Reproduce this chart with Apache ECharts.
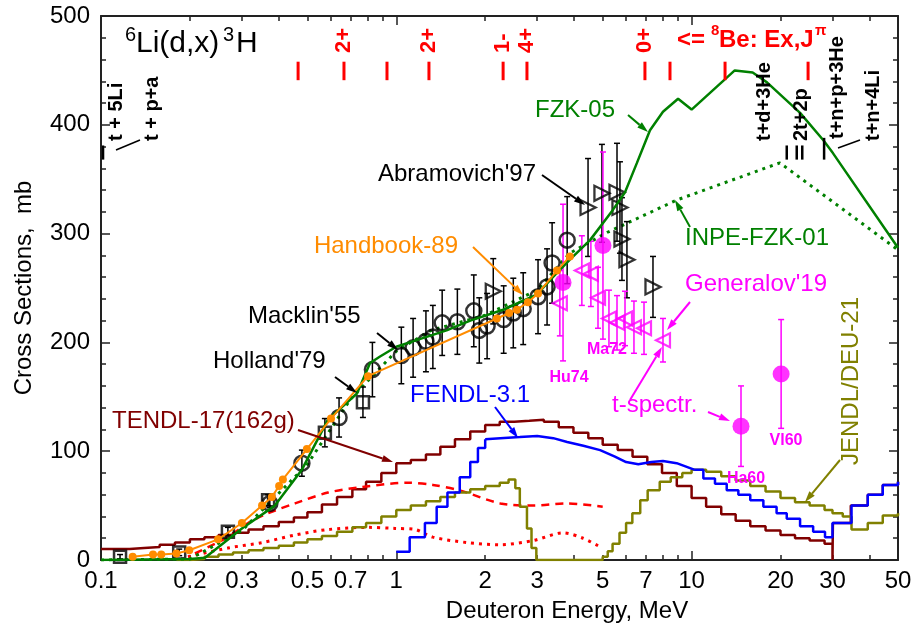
<!DOCTYPE html>
<html>
<head>
<meta charset="utf-8">
<script src="https://cdn.jsdelivr.net/npm/echarts@6/dist/echarts.min.js"></script>
<style>
  html, body { margin: 0; padding: 0; background: #fff; }
  #chart { width: 914px; height: 630px; }
</style>
</head>
<body>
<div id="chart"></div>
<script>
// 6Li(d,x)3H  -  energies in MeV, cross sections in mb

// axis ticks
var tickLabels = [0.1, 0.2, 0.3, 0.5, 0.7, 1, 2, 3, 5, 7, 10, 20, 30, 50];
var minorTicks = [0.2, 0.3, 0.4, 0.5, 0.6, 0.7, 0.8, 0.9, 2, 3, 4, 5, 6, 7, 8, 9, 20, 30, 40];
var majorTicks = [1, 10];

// evaluations
var fzkE  = [0.1, 0.2, 0.225, 0.3, 0.388, 0.479, 0.587, 0.736, 0.815, 0.881, 1.0, 1.2, 1.48, 1.78, 2.3, 2.99, 3.39, 3.87, 4.53, 5.42, 5.95, 6.53, 7.23, 8.0, 9.0, 10.0, 14.0, 16.1, 18.0, 23.3, 27.9, 30.1, 50];
var fzkXS = [0, 1, 2, 29, 50, 83, 129, 153, 181, 187, 196, 203, 211, 220, 230, 244, 260, 276, 294, 322, 338, 365, 395, 412, 424, 414, 450, 448, 439, 411, 386, 374, 287];

var inpeE  = [0.1, 0.2, 0.3, 0.5, 0.7, 1.0, 1.31, 2.0, 3.0, 3.87, 5.17, 8.93, 19.9, 50];
var inpeXS = [0, 1, 27, 88, 148, 192, 211, 225, 248, 282, 301, 331, 365, 285];

var hbE  = [0.128, 0.150, 0.160, 0.180, 0.199, 0.249, 0.300, 0.351, 0.379, 0.401, 0.413, 0.498, 0.601, 0.802, 2.19, 2.41, 2.56, 2.79, 3.02, 3.50, 3.87];
var hbXS = [3, 5, 5, 6, 9, 19, 34, 50, 58, 68, 74, 102, 130, 169, 222, 227, 230, 237, 245, 266, 279];

var tendlE  = [0.1, 0.112, 0.125, 0.14, 0.158, 0.178, 0.2, 0.224, 0.25, 0.28, 0.316, 0.355, 0.4, 0.45, 0.5, 0.56, 0.63, 0.71, 0.79, 0.89, 1.0, 1.12, 1.26, 1.41, 1.58, 1.78, 2.0, 2.24, 2.51, 2.82, 3.16, 3.55, 3.98, 4.47, 5.0, 5.62, 6.31, 7.08, 7.94, 8.91, 10.0, 11.2, 12.6, 14.1, 15.8, 17.8, 20.0, 22.4, 25.1, 28.2, 30.0, 30.1, 34.6, 39.5, 44.4, 50];
var tendlXS = [10, 10, 11, 12, 14, 16, 19, 21, 23, 25, 28, 31, 35, 39, 44, 51, 58, 65, 72, 80, 89, 92, 97, 104, 111, 118, 124, 127, 128, 129, 127, 122, 117, 112, 106, 101, 95, 88, 80, 68, 57, 49, 42, 36, 31, 27, 23, 20, 18, 15, 0, 34, 50, 60, 69, 72];

var tendlDashE  = [0.208, 0.269, 0.315, 0.368, 0.454, 0.587, 0.765, 1.09, 1.33, 1.64, 2.25, 2.92, 3.79, 5.0];
var tendlDashXS = [6, 21, 34, 43, 52, 62, 67, 71, 69, 64, 52, 50, 52, 49];

var tendlDotE  = [0.197, 0.269, 0.351, 0.454, 0.587, 0.80, 0.99, 1.16, 1.33, 1.74, 2.25, 2.92, 3.67, 4.29, 4.9];
var tendlDotXS = [3, 11, 16, 23, 28, 30, 29, 28, 21, 16, 14, 18, 25, 20, 12];

var fendlE1  = [1.0, 1.11, 1.25, 1.37, 1.49, 1.64, 1.78, 1.89, 2.0];
var fendlXS1 = [7.6, 21, 34, 49, 62, 76, 90, 103, 111];
var fendlE2  = [2.0, 2.25, 2.62, 3.0, 3.4, 3.79, 4.3, 4.9, 5.5, 6.0, 6.6, 7.3, 8.0, 8.9, 10.2];
var fendlXS2 = [111, 112, 113, 114, 112, 108.5, 105, 101, 95, 90, 88, 90, 91, 89, 83];
var fendlE3  = [10.2, 10.96, 12.0, 13.15, 14.4, 15.8, 17.5, 19.4, 21.0, 23.3, 25.8, 28.3, 30.0, 34.8, 39.5, 44.4, 50];
var fendlXS3 = [83, 75, 70, 64, 60, 55, 49, 43, 38, 31, 26, 21, 34, 50, 60, 69, 72];

var jendlE  = [0.18, 0.2, 0.224, 0.25, 0.28, 0.316, 0.355, 0.4, 0.45, 0.5, 0.56, 0.63, 0.71, 0.79, 0.89, 1.0, 1.12, 1.26, 1.41, 1.58, 1.78, 2.0, 2.24, 2.4, 2.53, 2.62, 2.77, 2.87, 2.98, 5.0, 5.2, 5.4, 5.7, 6.0, 6.3, 6.7, 7.1, 7.8, 8.5, 9.3, 10.0, 11.2, 12.6, 14.1, 15.8, 17.8, 20.0, 22.4, 25.1, 28.2, 30.0, 32.5, 34.8, 39.5, 44.4, 50];
var jendlXS = [0, 1, 3, 5, 7, 9, 11, 13, 16, 19, 22, 26, 30, 34, 40, 46, 50, 54, 58, 62, 65, 68, 71, 74, 66, 49, 29, 11, 0, 3, 8, 15, 25, 34, 43, 55, 64, 72, 76, 80, 83, 81, 77, 73, 68, 63, 57, 53, 50, 46, 43, 40, 28, 34, 41, 43];

// measurements
var macE   = [0.373, 0.479, 0.640, 0.83, 1.04, 1.14, 1.26, 1.33, 1.43, 1.61, 1.83, 1.91, 2.03, 2.31, 2.49, 2.69, 3.02, 3.24, 3.37, 3.79];
var macXS  = [52, 89, 131, 175, 188, 195, 201, 205, 218, 219, 229, 211, 215, 221, 227, 231, 242, 251, 273, 294];
var macErr = [4, 12, 18, 25, 26, 27, 28, 29, 30, 30, 33, 30, 30, 31, 32, 33, 34, 35, 37, 40];

var holE   = [0.116, 0.184, 0.269, 0.368, 0.573, 0.771];
var holXS  = [3, 7, 26, 55, 117, 145];
var holErr = [2, 3, 4, 5, 13, 14];

var abrE   = [2.13, 4.46, 4.97, 5.59, 5.72, 5.81, 6.04, 7.40];
var abrXS  = [247, 324, 337, 338, 324, 295, 276, 251];
var abrErr = [30, 45, 45, 45, 42, 38, 35, 28];

var genE   = [3.58, 4.25, 4.56, 4.82, 5.25, 5.59, 5.95, 6.38, 6.90, 8.0];
var genXS  = [236, 266, 263, 241, 222, 218, 222, 214, 213, 202];
var genErr = [30, 32, 30, 28, 26, 25, 25, 24, 24, 20];

var tspE   = [3.67, 5.01, 14.7, 20.1];
var tspXS  = [255, 289, 123, 171];
var tspErr = [72, 86, 37, 50];

// 8Be levels and reaction thresholds
var levelE = [0.465, 0.665, 0.93, 1.29, 2.30, 2.77, 6.95, 8.45, 12.98, 24.8];
var levelTagE = [0.665, 1.29, 2.30, 2.77, 6.95];
var levelTags = ['2+', '2+', '1-', '4+', '0+'];
var thrE  = [0.1016, 21.0, 22.7, 23.7, 28.1];
var thrHi = [381, 381, 381, 381, 388];

var FONT = '"Liberation Sans", Arial, sans-serif';
var L10 = function (v) { return Math.log(v) / Math.LN10; };

function pairs(xs, ys) { return xs.map(function (x, i) { return [x, ys[i]]; }); }
function triples(xs, ys, es) { return xs.map(function (x, i) { return [x, ys[i], es[i]]; }); }

var myChart = echarts.init(document.getElementById('chart'));

// 误差棒
function errBars(color) {
    return function (params, api) {
        var x = api.value(0), y = api.value(1), e = api.value(2);
        var p1 = api.coord([x, y + e]), p2 = api.coord([x, y - e]);
        var st = { stroke: color, lineWidth: 1.5 };
        return {
            type: 'group',
            children: [
                { type: 'line', shape: { x1: p1[0], y1: p1[1], x2: p2[0], y2: p2[1] }, style: st },
                { type: 'line', shape: { x1: p1[0] - 3, y1: p1[1], x2: p1[0] + 3, y2: p1[1] }, style: st },
                { type: 'line', shape: { x1: p2[0] - 3, y1: p2[1], x2: p2[0] + 3, y2: p2[1] }, style: st }
            ]
        };
    };
}

function vMarks(color, width) {
    return function (params, api) {
        var p1 = api.coord([api.value(0), api.value(1)]), p2 = api.coord([api.value(0), api.value(2)]);
        return { type: 'line', shape: { x1: p1[0], y1: p1[1], x2: p2[0], y2: p2[1] }, style: { stroke: color, lineWidth: width } };
    };
}

function arrow(x1, y1, x2, y2, color) {
    var a = Math.atan2(y2 - y1, x2 - x1), L = 11, W = 3.5;
    var bx = x2 - L * Math.cos(a), by = y2 - L * Math.sin(a);
    return [
        { type: 'line', z: 20, shape: { x1: x1, y1: y1, x2: bx, y2: by }, style: { stroke: color, lineWidth: 2 } },
        { type: 'polygon', z: 20, shape: { points: [[x2, y2], [bx + W * Math.sin(a), by - W * Math.cos(a)], [bx - W * Math.sin(a), by + W * Math.cos(a)]] }, style: { fill: color } }
    ];
}

function label(text, x, y, color, size, opts) {
    opts = opts || {};
    return {
        type: 'text', z: 20, x: x, y: y, rotation: opts.rot || 0,
        style: {
            text: text, fill: color, align: opts.align || 'left', verticalAlign: 'middle',
            font: (opts.bold ? 'bold ' : '') + size + 'px ' + FONT
        }
    };
}

function lineSeries(xs, ys, color, width, extra) {
    var s = {
        type: 'line', data: pairs(xs, ys), showSymbol: false, symbol: 'none',
        lineStyle: { color: color, width: width }, z: 3, silent: true
    };
    for (var k in extra) s[k] = extra[k];
    return s;
}

function scatter(xs, ys, sym, rot, size, color, filled, bw) {
    return {
        type: 'scatter', data: pairs(xs, ys), symbol: sym, symbolRotate: rot, symbolSize: size, z: 5,
        itemStyle: filled ? { color: color } : { color: 'rgba(0,0,0,0)', borderColor: color, borderWidth: bw || 2 }
    };
}

function errSeries(xs, ys, es, color) {
    return { type: 'custom', renderItem: errBars(color), data: triples(xs, ys, es), encode: { x: 0, y: 1 }, z: 4 };
}

var tickLine = { color: '#222', width: 1.5 };
var frame = { show: true, onZero: false, lineStyle: { color: '#222', width: 2 } };
function tickAxis(pos, vals, len, withLabels) {
    return {
        type: 'value', min: -1, max: L10(50), position: pos,
        axisLine: { show: false, onZero: false },
        axisTick: { show: true, inside: true, length: len, lineStyle: tickLine, customValues: vals.map(L10) },
        axisLabel: withLabels ? {
            show: true, customValues: tickLabels.map(L10), margin: 9, color: '#000', fontSize: 24, fontFamily: FONT,
            formatter: function (v) { return String(+Math.pow(10, v).toPrecision(2)); }
        } : { show: false },
        splitLine: { show: false }
    };
}
function yAx(pos, withLabels) {
    return {
        type: 'value', min: 0, max: 500, interval: 100, position: pos,
        axisLine: frame,
        axisTick: { show: true, inside: true, length: 9, lineStyle: tickLine },
        minorTick: { show: true, splitNumber: 5, length: 5, lineStyle: tickLine },
        axisLabel: withLabels ? { show: true, margin: 11, color: '#000', fontSize: 24, fontFamily: FONT } : { show: false },
        splitLine: { show: false }
    };
}

var option = {
    animation: false,
    textStyle: { fontFamily: FONT },
    grid: { left: 101, right: 16, top: 16, bottom: 70, containLabel: false, outerBoundsMode: 'none' },
    xAxis: [
        {
            type: 'log', logBase: 10, min: 0.1, max: 50, position: 'bottom',
            axisLine: frame, axisTick: { show: false }, axisLabel: { show: false },
            splitLine: { show: false }, minorTick: { show: false }, minorSplitLine: { show: false }
        },
        tickAxis('bottom', minorTicks, 5, true),
        tickAxis('bottom', majorTicks, 9, false),
        tickAxis('top', minorTicks, 5, false),
        (function () { var a = tickAxis('top', majorTicks, 9, false); a.axisLine = frame; return a; })()
    ],
    yAxis: [yAx('left', true), yAx('right', false)],
    series: [
        lineSeries(tendlE, tendlXS, '#800000', 2.5, { step: 'end' }),
        lineSeries(tendlDashE, tendlDashXS, '#ff0000', 2.5, { smooth: 0.3, lineStyle: { color: '#ff0000', width: 2.5, type: [8, 6] } }),
        lineSeries(tendlDotE, tendlDotXS, '#ff0000', 2.5, { smooth: 0.3, lineStyle: { color: '#ff0000', width: 3, type: [3, 5] } }),
        lineSeries(jendlE, jendlXS, '#808000', 2.5, { step: 'end' }),
        lineSeries(fendlE1, fendlXS1, '#0000ff', 2.5, { step: 'end' }),
        lineSeries(fendlE2, fendlXS2, '#0000ff', 2.5, {}),
        lineSeries(fendlE3, fendlXS3, '#0000ff', 2.5, { step: 'end' }),
        lineSeries(inpeE, inpeXS, '#008000', 2.5, { lineStyle: { color: '#008000', width: 3, type: [3, 5] } }),
        errSeries(macE, macXS, macErr, '#000'),
        errSeries(holE, holXS, holErr, '#000'),
        errSeries(abrE, abrXS, abrErr, '#000'),
        errSeries(genE, genXS, genErr, '#ff00ff'),
        errSeries(tspE, tspXS, tspErr, '#ff00ff'),
        scatter(macE, macXS, 'circle', 0, 15, '#000', false, 2.5),
        scatter(holE, holXS, 'rect', 0, 12, '#000', false, 2.5),
        scatter(abrE, abrXS, 'triangle', -90, 15, '#000', false, 2.3),
        scatter(genE, genXS, 'triangle', 90, 14, '#ff00ff', false, 2.2),
        scatter(tspE, tspXS, 'circle', 0, 17, '#ff00ff', true),
        lineSeries(fzkE, fzkXS, '#008000', 2.5, { z: 6 }),
        lineSeries(hbE, hbXS, '#ff8c00', 2, { z: 6, showSymbol: true, symbol: 'circle', symbolSize: 8, itemStyle: { color: '#ff8c00' } }),
        // 8Be levels
        { type: 'custom', renderItem: vMarks('#ff0000', 3), data: levelE.map(function (e) { return [e, 441, 458]; }), encode: { x: 0, y: 1 }, z: 7 },
        {
            type: 'custom', z: 7, encode: { x: 0, y: 1 },
            data: levelTagE.map(function (e) { return [e, 466]; }),
            renderItem: function (params, api) {
                var p = api.coord([api.value(0), api.value(1)]);
                return { type: 'text', x: p[0], y: p[1], rotation: Math.PI / 2,
                    style: { text: levelTags[params.dataIndex], fill: '#ff0000', align: 'left', verticalAlign: 'middle', font: 'bold 22px ' + FONT } };
            }
        },
        // thresholds
        { type: 'custom', renderItem: vMarks('#000', 2.5), data: thrE.map(function (e, i) { return [e, 368, thrHi[i]]; }), encode: { x: 0, y: 1 }, z: 7 }
    ],
    graphic: [].concat(
        [
            label('6', 125, 35, '#000', 20),
            label('Li(d,x)', 136, 44, '#000', 30),
            label('3', 223, 35, '#000', 20),
            label('H', 236, 44, '#000', 30),
            label('<=', 677, 40, '#ff0000', 24, { bold: true }),
            label('8', 711, 31, '#ff0000', 15, { bold: true }),
            label('Be: Ex,J', 719, 40, '#ff0000', 24, { bold: true }),
            label('\u03c0', 815, 31, '#ff0000', 15, { bold: true }),
            label('t + 5Li', 116, 141, '#000', 20, { bold: true, rot: Math.PI / 2 }),
            label('t + p+a', 152, 141, '#000', 20, { bold: true, rot: Math.PI / 2 }),
            label('t+d+3He', 764, 141, '#000', 20, { bold: true, rot: Math.PI / 2 }),
            label('2t+2p', 801, 141, '#000', 20, { bold: true, rot: Math.PI / 2 }),
            label('t+n+p+3He', 837, 139, '#000', 20, { bold: true, rot: Math.PI / 2 }),
            label('t+n+4Li', 873, 141, '#000', 20, { bold: true, rot: Math.PI / 2 }),
            { type: 'line', z: 20, shape: { x1: 116, y1: 150, x2: 140, y2: 140 }, style: { stroke: '#000', lineWidth: 1.5 } },
            { type: 'line', z: 20, shape: { x1: 838, y1: 148, x2: 860, y2: 140 }, style: { stroke: '#000', lineWidth: 1.5 } },
            label('Cross Sections,  mb', 24, 288, '#000', 24, { align: 'center', rot: Math.PI / 2 }),
            label('Deuteron Energy, MeV', 567, 611, '#000', 24, { align: 'center' }),
            label("Abramovich'97", 378, 174, '#000', 24),
            label('Handbook-89', 458, 246, '#ff8c00', 24, { align: 'right' }),
            label("Macklin'55", 248, 316, '#000', 24),
            label("Holland'79", 213, 361, '#000', 24),
            label('TENDL-17(162g)', 112, 421, '#800000', 24),
            label('FENDL-3.1', 410, 395, '#0000ff', 24),
            label('FZK-05', 535, 110, '#008000', 24),
            label('INPE-FZK-01', 685, 238, '#008000', 24),
            label("Generalov'19", 685, 284, '#ff00ff', 24),
            label('t-spectr.', 612, 405, '#ff00ff', 24),
            label('JENDL/DEU-21', 851, 465, '#808000', 24, { rot: Math.PI / 2 }),
            label('Hu74', 569, 378, '#ff00ff', 16, { bold: true, align: 'center' }),
            label('Ma72', 607, 350, '#ff00ff', 16, { bold: true, align: 'center' }),
            label('Ha60', 746, 479, '#ff00ff', 16, { bold: true, align: 'center' }),
            label('Vl60', 786, 441, '#ff00ff', 16, { bold: true, align: 'center' })
        ],
        arrow(542, 175, 585, 205, '#000'),
        arrow(473, 247, 523, 295, '#ff8c00'),
        arrow(377, 333, 398, 350, '#000'),
        arrow(335, 377, 357, 393, '#000'),
        arrow(298, 430, 393, 462, '#800000'),
        arrow(495, 407, 518, 438, '#0000ff'),
        arrow(628, 115, 648, 132, '#008000'),
        arrow(690, 227, 675, 200, '#008000'),
        arrow(690, 302, 667, 330, '#ff00ff'),
        arrow(630, 400, 662, 347, '#ff00ff'),
        arrow(708, 412, 730, 421, '#ff00ff'),
        arrow(840, 460, 805, 502, '#808000')
    )
};

myChart.setOption(option);
</script>
</body>
</html>
